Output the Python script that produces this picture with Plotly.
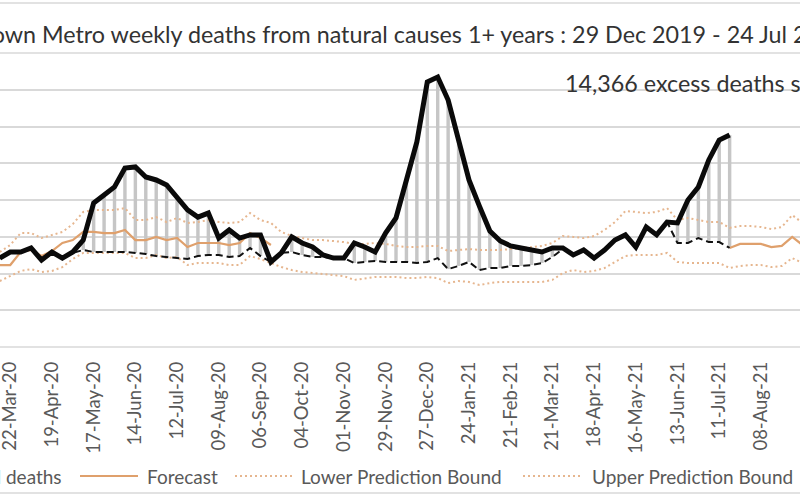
#!/usr/bin/env python3
# Cape Town Metro weekly deaths from natural causes (cropped Excel chart look)
import pandas as pd
import plotly.graph_objects as go

# weekly data, week starting 15-Mar-2020 ... 05-Sep-2021
weeks = pd.date_range("2020-03-15", periods=78, freq="7D")

reported = [484, 517, 517, 539, 473, 517, 484, 517, 582, 784, 827, 871, 974, 980,
            925, 909, 882, 816, 746, 707, 729, 593, 637, 593, 610, 610, 463, 512,
            599, 566, 544, 501, 484, 484, 566, 544, 517, 620, 702, 909, 1116, 1442,
            1469, 1344, 1126, 909, 767, 631, 577, 550, 539, 528, 517, 539, 539, 501,
            528, 484, 528, 582, 610, 544, 653, 610, 680, 675, 800, 871, 1018, 1126,
            1154] + [None] * 7

baseline = [484, 517, 517, 539, 473, 517, 484, 512, 528, 517, 517, 517, 517, 512,
            506, 495, 490, 484, 479, 495, 501, 501, 490, 495, 539, 495, 463, 512,
            517, 501, 490, 490, 484, 484, 457, 463, 468, 463, 463, 463, 457, 463,
            484, 424, 441, 463, 419, 430, 430, 441, 441, 446, 457, 490, 533, 501,
            528, 484, 528, 582, 610, 544, 653, 610, 680, 566, 566, 593, 571, 571,
            539] + [None] * 7

forecast = [446, 446, 517, 528, 495, 522, 566, 582, 626, 626, 620, 620, 637, 582,
            582, 599, 582, 593, 544, 566, 566, 566, 555, 566, 620, 593, 555] + \
           [None] * 43 + [539, 561, 561, 561, 544, 550, 599, 555]

upper = [517, 555, 620, 620, 593, 610, 626, 669, 735, 746, 746, 746, 756, 691,
         691, 707, 680, 702, 675, 680, 691, 680, 675, 680, 729, 691, 675,
         626, 604, 593, 582, 582, 577, 571, 561, 561, 566, 561, 550, 544, 544, 550, 550,
         522, 528, 533, 528, 528, 528, 533, 539, 544,
         550, 566, 604, 599, 593, 604, 637, 680, 740, 735, 729, 735, 756,
         691, 702, 691, 680, 680,
         648, 658, 658, 653, 642, 653, 718, 675]

lower = [359, 386, 414, 424, 408, 414, 435, 479, 512, 512, 512, 512, 512, 484,
         484, 501, 484, 490, 446, 457, 457, 457, 446, 446, 495, 479, 457,
         435, 419, 408, 403, 397, 392, 386, 365, 375, 381, 381, 381, 375, 375, 381, 375,
         348, 359, 354, 337, 348, 354, 354, 354, 354,
         354, 365, 403, 419, 408, 414, 430, 463, 495, 501, 501, 501, 512,
         463, 457, 457, 457, 457,
         430, 441, 446, 446, 435, 441, 484, 457]

title_text = "Cape Town Metro weekly deaths from natural causes 1+ years : 29 Dec 2019 - 24 Jul 2021"
excess_text = "14,366 excess deaths since 3 May 2020"
legend_names = ["Reported deaths", "Forecast", "Lower Prediction Bound", "Upper Prediction Bound"]

FONT = "Lato"
GRID = "#d9d9d9"
ORANGE = "#dfa06c"
ORANGE_DOT = "#e6b68f"

W, H = 800, 500
TOP, BOTTOM = 53, 347          # plot area in pixels


def px_x(x):
    return x / W


def px_y(y):
    return (BOTTOM - y) / (BOTTOM - TOP)


# high-low lines between baseline and reported
diff = [r - b if r is not None else None for r, b in zip(reported, baseline)]

fig = go.Figure()
fig.add_trace(go.Bar(x=weeks, y=diff, base=baseline, width=2.3 * 86400000,
                     marker=dict(color="#c6c6c6", line=dict(width=0)),
                     showlegend=False, name="excess"))
fig.add_trace(go.Scatter(x=weeks, y=lower, mode="lines", name=legend_names[2],
                         line=dict(color=ORANGE_DOT, width=2, dash="2px,3px")))
fig.add_trace(go.Scatter(x=weeks, y=upper, mode="lines", name=legend_names[3],
                         line=dict(color=ORANGE_DOT, width=2, dash="2px,3px")))
fig.add_trace(go.Scatter(x=weeks, y=forecast, mode="lines", name=legend_names[1],
                         line=dict(color=ORANGE, width=2.2)))
fig.add_trace(go.Scatter(x=weeks, y=baseline, mode="lines", name="Baseline",
                         line=dict(color="#111111", width=2, dash="7px,4px")))
fig.add_trace(go.Scatter(x=weeks, y=reported, mode="lines", name=legend_names[0],
                         line=dict(color="#0a0a0a", width=5)))

ticks = pd.date_range("2020-03-22", "2021-09-05", freq="28D")

fig.update_layout(
    width=W, height=H, autosize=False,
    margin=dict(l=0, r=0, t=TOP, b=H - BOTTOM, pad=0),
    paper_bgcolor="white", plot_bgcolor="white",
    showlegend=False,
    font=dict(family=FONT, color="#595959"),
    xaxis=dict(type="date", range=["2020-03-15 02:50", "2021-09-03 05:45"],
               tickvals=ticks, tickformat="%d-%b-%y", tickangle=-90,
               tickfont=dict(family=FONT, size=18.5, color="#595959"),
               ticks="", ticklabelstandoff=10, ticklabeloverflow="allow",
               showgrid=False, automargin=False, showline=False, zeroline=False),
    yaxis=dict(range=[0, 1600], dtick=200, showticklabels=False, automargin=False,
               gridcolor=GRID, gridwidth=1.6, zeroline=False, showline=False),
)

# chart border lines (top / bottom of chart area), top gridline and x axis line
shapes = []
for yy in (3, 493):
    shapes.append(dict(type="line", xref="paper", yref="paper", x0=0, x1=1,
                       y0=px_y(yy), y1=px_y(yy), line=dict(color=GRID, width=1.6)))
for yy in (0, 1):
    shapes.append(dict(type="line", xref="paper", yref="paper", x0=0, x1=1,
                       y0=yy, y1=yy, layer="below", line=dict(color=GRID, width=1.6)))

annotations = [
    dict(text=title_text, xref="paper", yref="paper", x=px_x(-79), y=px_y(34),
         xanchor="left", yanchor="middle", showarrow=False,
         font=dict(family=FONT, size=23.3, color="#333333")),
    dict(text=excess_text, xref="paper", yref="paper", x=px_x(563), y=px_y(83),
         xanchor="left", yanchor="middle", showarrow=False,
         font=dict(family=FONT, size=23.3, color="#333333")),
]

# legend drawn by hand (Excel style long keys)
leg_y = px_y(476)
leg_keys = [(-143, -85, dict(color="#0a0a0a", width=4.5)),
            (80, 138, dict(color=ORANGE, width=2.2)),
            (235, 292, dict(color=ORANGE_DOT, width=2, dash="2px,3px")),
            (523, 583, dict(color=ORANGE_DOT, width=2, dash="2px,3px"))]
for name, (x0, x1, ln) in zip(legend_names, leg_keys):
    shapes.append(dict(type="line", xref="paper", yref="paper", x0=px_x(x0), x1=px_x(x1),
                       y0=leg_y, y1=leg_y, line=ln))
    annotations.append(dict(text=name, xref="paper", yref="paper", x=px_x(x1 + 7), y=leg_y,
                            xanchor="left", yanchor="middle", showarrow=False,
                            font=dict(family=FONT, size=19, color="#595959")))

fig.update_layout(shapes=shapes, annotations=annotations)

# drop the browser's default 8px body margin so the figure sits at the page corner
fig.write_html("out.html", config={"displayModeBar": False},
               post_script="document.body.style.margin='0';")
